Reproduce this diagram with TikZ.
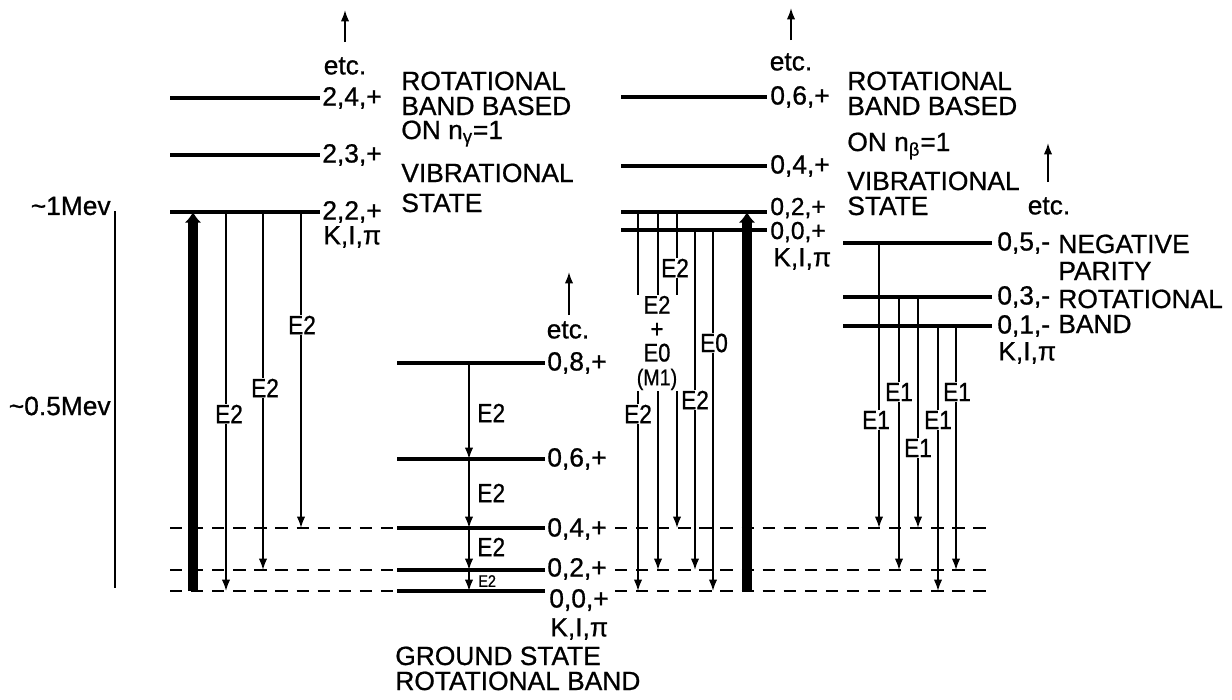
\documentclass[tikz,border=0pt]{standalone}
\usepackage{fontspec}
\setmainfont[FakeBold=0.8]{Liberation Sans}
\newfontfamily\narrowfont[FakeStretch=0.86,FakeBold=0.8]{Liberation Sans}
\usetikzlibrary{arrows.meta}
\begin{document}
\begin{tikzpicture}[x=0.02cm,y=-0.02cm,
  lvl/.style={line width=1.8pt},
  dsh/.style={line width=1.2pt, dash pattern=on 7pt off 5pt},
  tr/.style={line width=1pt,-{Latex[length=6.5pt,width=4.8pt]}},
  bigarrow/.style={line width=5.8pt,-{Latex[length=6pt,width=9.5pt]}},
  lab/.style={font=\fontsize{15}{17}\selectfont, inner sep=0pt, anchor=west},
  labs/.style={font=\fontsize{14}{16}\selectfont, inner sep=0pt, anchor=west},
  txt/.style={font=\fontsize{15}{17}\selectfont, inner sep=0pt, anchor=base west},
  cut/.style={font=\narrowfont\fontsize{15}{17}\selectfont, fill=white, inner sep=0.6pt},
  side/.style={font=\narrowfont\fontsize{15}{17}\selectfont, inner sep=0pt, anchor=west},
  axl/.style={font=\fontsize{15}{17}\selectfont, inner sep=0pt, anchor=east}]
\useasboundingbox (0,0) rectangle (1232,700);

% ---------- energy axis ----------
\coordinate (axT) at (115,211);
\coordinate (axB) at (115,588);
\draw[line width=1.3pt] (axT) -- (axB);
\node[axl] (ax1) at (111,206) {\textasciitilde1Mev};
\node[axl] (ax05) at (111,406) {\textasciitilde0.5Mev};

% ---------- gamma band (left) ----------
\foreach \n/\y in {4/98,3/155,2/212}{
  \coordinate (g\n L) at (170,\y);
  \coordinate (g\n R) at (320,\y);
  \draw[lvl] (g\n L) -- (g\n R);
}
\node[lab] (lg4) at (322,98) {2,4,+};
\node[lab] (lg3) at (322,155) {2,3,+};
\node[lab] (lg2) at (322,212) {2,2,+};
\node[lab] (lgK) at (323,237) {K,I,π};
\node[txt] (tg1) at (401,90) {ROTATIONAL};
\node[txt] (tg2) at (401,115) {BAND BASED};
\node[txt] (tg3) at (401,139) {ON n\textsubscript{γ}=1};
\node[txt] (tg4) at (401,182) {VIBRATIONAL};
\node[txt] (tg5) at (401,212) {STATE};
\node[font=\fontsize{15}{17}\selectfont, inner sep=0pt] (etcG) at (345,66) {etc.};
\coordinate (etcGa) at (345,42);
\coordinate (etcGb) at (345,10);
\draw[tr] (etcGa) -- (etcGb);

% ---------- ground state band ----------
\foreach \n/\y in {8/363,6/459,4/528,2/570,0/591}{
  \coordinate (G\n L) at (397,\y);
  \coordinate (G\n R) at (545,\y);
  \draw[lvl] (G\n L) -- (G\n R);
}
% dashed continuations of ground levels
\foreach \n/\y in {4/528,2/570,0/591}{
  \coordinate (D\n a) at (170,\y);
  \coordinate (D\n b) at (396,\y);
  \coordinate (D\n c) at (615,\y);
  \coordinate (D\n d) at (993,\y);
  \draw[dsh] (D\n a) -- (D\n b);
  \draw[dsh] (D\n c) -- (D\n d);
}
\node[lab] (lG8) at (547,363) {0,8,+};
\node[lab] (lG6) at (547,459) {0,6,+};
\node[lab] (lG4) at (547,529) {0,4,+};
\node[lab] (lG2) at (547,569) {0,2,+};
\node[lab] (lG0) at (549,600) {0,0,+};
\node[lab] (lGK) at (550,629) {K,I,π};
\node[txt] (tG1) at (395,665) {GROUND STATE};
\node[txt] (tG2) at (395,690) {ROTATIONAL BAND};
\node[font=\fontsize{15}{17}\selectfont, inner sep=0pt] (etcR) at (568,330) {etc.};
\coordinate (etcRa) at (569,315);
\coordinate (etcRb) at (569,272);
\draw[tr] (etcRa) -- (etcRb);

% ---------- beta band ----------
\foreach \n/\y in {6/97,4/166,2/212,0/230}{
  \coordinate (b\n L) at (621,\y);
  \coordinate (b\n R) at (767,\y);
  \draw[lvl] (b\n L) -- (b\n R);
}
\node[lab] (lb6) at (770,97) {0,6,+};
\node[lab] (lb4) at (770,166) {0,4,+};
\node[labs] (lb2) at (770,208) {0,2,+};
\node[labs] (lb0) at (770,232) {0,0,+};
\node[lab] (lbK) at (773,259) {K,I,π};
\node[txt] (tb1) at (847,90) {ROTATIONAL};
\node[txt] (tb2) at (847,115) {BAND BASED};
\node[txt] (tb3) at (847,151) {ON n\textsubscript{β}=1};
\node[txt] (tb4) at (847,190) {VIBRATIONAL};
\node[txt] (tb5) at (847,215) {STATE};
\node[font=\fontsize{15}{17}\selectfont, inner sep=0pt] (etcB) at (791,62) {etc.};
\coordinate (etcBa) at (791,40);
\coordinate (etcBb) at (791,8);
\draw[tr] (etcBa) -- (etcBb);

% ---------- negative parity band ----------
\foreach \n/\y in {5/243,3/297,1/326}{
  \coordinate (n\n L) at (843,\y);
  \coordinate (n\n R) at (992,\y);
  \draw[lvl] (n\n L) -- (n\n R);
}
\node[lab] (ln5) at (997,243) {0,5,-};
\node[lab] (ln3) at (997,297) {0,3,-};
\node[lab] (ln1) at (997,326) {0,1,-};
\node[lab] (lnK) at (998,353) {K,I,π};
\node[txt] (tn1) at (1058,253) {NEGATIVE};
\node[txt] (tn2) at (1058,280) {PARITY};
\node[txt] (tn3) at (1058,308) {ROTATIONAL};
\node[txt] (tn4) at (1058,333) {BAND};
\node[font=\fontsize{15}{17}\selectfont, inner sep=0pt] (etcN) at (1049,206) {etc.};
\coordinate (etcNa) at (1048,182);
\coordinate (etcNb) at (1048,143);
\draw[tr] (etcNa) -- (etcNb);

% ---------- transitions: gamma band ----------
\coordinate (tgA1) at (226,212); \coordinate (tgA2) at (226,591);
\coordinate (tgB1) at (263,212); \coordinate (tgB2) at (263,570);
\coordinate (tgC1) at (301,212); \coordinate (tgC2) at (301,528);
\draw[tr] (tgA1) -- (tgA2);
\draw[tr] (tgB1) -- (tgB2);
\draw[tr] (tgC1) -- (tgC2);
\coordinate (exG0) at (193,591); \coordinate (exG1) at (193,212);
\draw[bigarrow] (exG0) -- (exG1);
\node[cut] (eA) at (229,414) {E2};
\node[cut] (eB) at (265,388) {E2};
\node[cut] (eC) at (302,325) {E2};

% ---------- transitions: ground band ----------
\coordinate (tG8) at (469,363);
\coordinate (tG6) at (469,459);
\coordinate (tG4) at (469,528);
\coordinate (tG2) at (469,570);
\coordinate (tG0) at (469,591);
\draw[tr] (tG8) -- (tG6);
\draw[tr] (tG6) -- (tG4);
\draw[tr] (tG4) -- (tG2);
\draw[tr] (tG2) -- (tG0);
\node[side] (eG1) at (477,413) {E2};
\node[side] (eG2) at (477,493) {E2};
\node[side] (eG3) at (477,547) {E2};
\node[font=\narrowfont\fontsize{9.5}{11}\selectfont, inner sep=0pt, anchor=west] (eG4) at (478,581) {E2};

% ---------- transitions: beta band ----------
\coordinate (tbA1) at (638,212); \coordinate (tbA2) at (638,591);
\coordinate (tbB1) at (658,212); \coordinate (tbB2) at (658,570);
\coordinate (tbC1) at (677,212); \coordinate (tbC2) at (677,528);
\coordinate (tbD1) at (695,230); \coordinate (tbD2) at (695,570);
\coordinate (tbE1) at (713,230); \coordinate (tbE2) at (713,591);
\draw[tr] (tbA1) -- (tbA2);
\draw[tr] (tbB1) -- (tbB2);
\draw[tr] (tbC1) -- (tbC2);
\draw[tr] (tbD1) -- (tbD2);
\draw[tr] (tbE1) -- (tbE2);
\coordinate (exB0) at (747,591); \coordinate (exB1) at (747,212);
\draw[bigarrow] (exB0) -- (exB1);
\node[cut] (eb1) at (675,268) {E2};
\node[cut, align=center, font=\narrowfont\fontsize{14.5}{13.6}\selectfont] (eb2) at (657,343)
  {E2\\+\\E0\\{\fontsize{13}{13.6}\selectfont(M1)}};
\node[cut] (eb3) at (714,343) {E0};
\node[cut] (eb4) at (695,400) {E2};
\node[cut] (eb5) at (638,414) {E2};

% ---------- transitions: negative parity band ----------
\coordinate (tnA1) at (879,243); \coordinate (tnA2) at (879,528);
\coordinate (tnB1) at (899,297); \coordinate (tnB2) at (899,570);
\coordinate (tnC1) at (918,297); \coordinate (tnC2) at (918,528);
\coordinate (tnD1) at (938,326); \coordinate (tnD2) at (938,591);
\coordinate (tnE1) at (956,326); \coordinate (tnE2) at (956,570);
\draw[tr] (tnA1) -- (tnA2);
\draw[tr] (tnB1) -- (tnB2);
\draw[tr] (tnC1) -- (tnC2);
\draw[tr] (tnD1) -- (tnD2);
\draw[tr] (tnE1) -- (tnE2);
\node[cut] (en1) at (876,420) {E1};
\node[cut] (en2) at (899,392) {E1};
\node[cut] (en3) at (918,448) {E1};
\node[cut] (en4) at (938,420) {E1};
\node[cut] (en5) at (957,392) {E1};
\end{tikzpicture}
\end{document}
